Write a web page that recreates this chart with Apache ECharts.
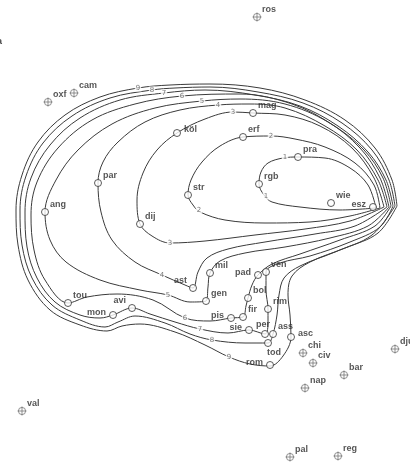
<!DOCTYPE html>
<html><head><meta charset="utf-8">
<script src="https://cdn.jsdelivr.net/npm/echarts@6/dist/echarts.min.js"></script>
<style>html,body{margin:0;padding:0;background:#fff}#c{width:410px;height:465px}</style>
</head><body><div id="c"></div>
<script>
// contour levels and their paths (map units)
const levels = [1,2,3,4,5,6,7,8,9];
const contour1 = [[376,208],[368,185],[350,168],[325,158],[298,157],[283,158],[268,163],[261,172],[259,184],[264,195],[272,202],[300,207],[340,210],[376,208]];
const contour2 = [[380,208],[374,185],[355,163],[325,147],[295,139],[271,136],[243,137],[220,146],[202,162],[191,180],[188,195],[193,205],[200,212],[225,220],[265,223],[310,222],[350,216],[380,208]];
const contour3 = [[384,207],[374,178],[352,148],[320,126],[285,115],[253,113],[233,112],[205,119],[177,133],[157,150],[143,173],[137,200],[140,224],[152,236],[170,243],[205,241],[255,235],[305,229],[350,221],[384,207]];
const contour4 = [[387,207],[378,180],[357,150],[325,126],[285,108],[250,104],[218,105],[180,110],[145,122],[118,142],[103,162],[98,183],[101,212],[112,240],[135,262],[162,275],[185,285],[193,288],[198,272],[207,258],[228,249],[265,242],[315,234],[355,226],[387,207]];
const contour5 = [[389,207],[380,178],[360,148],[328,122],[285,104],[240,99],[202,101],[155,108],[112,124],[78,150],[56,180],[45,212],[50,240],[66,262],[100,280],[140,290],[168,295],[190,302],[206,301],[208,287],[210,273],[220,261],[245,253],[285,247],[330,238],[368,226],[389,207]];
const contour6 = [[391,206],[383,178],[364,150],[333,125],[292,104],[240,94],[182,96],[135,104],[92,120],[58,148],[37,182],[31,215],[34,250],[45,280],[68,303],[87,297],[117,294],[153,300],[185,318],[210,321],[231,318],[243,317],[246,306],[248,298],[252,285],[258,275],[272,264],[300,254],[340,240],[375,226],[391,206]];
const contour7 = [[393,206],[386,180],[368,152],[338,126],[300,106],[255,95],[205,90],[164,93],[120,100],[80,118],[50,145],[31,178],[25,212],[27,247],[37,278],[55,302],[80,315],[100,318],[113,315],[132,308],[150,314],[175,322],[200,329],[228,333],[249,330],[265,334],[268,322],[268,309],[266,290],[266,272],[280,263],[310,256],[350,242],[380,227],[393,206]];
const contour8 = [[395,206],[389,180],[372,150],[342,123],[303,103],[258,92],[210,87],[175,88],[152,90],[110,98],[72,116],[43,143],[26,176],[20,210],[22,245],[32,278],[52,305],[80,320],[105,327],[118,322],[135,316],[165,323],[190,334],[212,340],[245,343],[268,343],[273,334],[277,315],[279,295],[284,278],[300,266],[335,252],[372,235],[395,206]];
const contour9 = [[397,206],[392,180],[375,148],[345,120],[305,100],[260,88],[210,84],[170,85],[138,88],[100,97],[65,115],[38,142],[22,175],[16,210],[18,245],[28,280],[50,310],[80,325],[107,331],[122,326],[140,324],[175,332],[205,345],[229,357],[250,364],[270,366],[283,356],[291,337],[290,315],[288,295],[292,276],[310,262],[345,248],[378,233],[397,206]];
const contours = [contour1,contour2,contour3,contour4,contour5,contour6,contour7,contour8,contour9];
// where each level number is written on its contour (upper and lower)
const levelLabelUpper = [[285,157],[271,136],[233,112],[218,105],[202,101],[182,96],[164,93],[152,90],[138,88]];
const levelLabelLower = [[266,196],[199,210],[170,243],[162,275],[168,295],[185,318],[200,329],[212,340],[229,357]];

// places inside the contoured area (open circles)
const innerNames = ['mag','erf','köl','pra','rgb','wie','esz','str','par','ang','dij','ast','tou','mon','avi','mil','pad','ven','gen','bol','rim','pis','fir','sie','per','ass','asc','tod','rom'];
const innerX = [253,243,177,298,259,331,373,188,98,45,140,193,68,113,132,210,258,266,206,248,268,231,243,249,265,273,291,268,270];
const innerY = [113,137,133,157,184,203,207,195,183,212,224,288,303,315,308,273,275,272,301,298,309,318,317,330,334,334,337,343,365];
// places outside (crosshair markers)
const outerNames = ['ros','oxf','cam','val','chi','civ','bar','nap','dju','pal','reg'];
const outerX = [257,48,74,22,303,313,344,305,395,290,338];
const outerY = [17,102,93,411,353,363,375,388,349,457,456];

// label placement style (not data)
const labelPlace = {esz:'l', ast:'lt', mon:'l', avi:'lt', pad:'l', pis:'l', sie:'l', per:'t', tod:'b', rom:'l', 'köl':'r', asc:'r'};
function labelFor(name){
  const p = labelPlace[name] || 'tr';
  if (p==='l') return {position:'left', distance:3, offset:[0,-2]};
  if (p==='lt') return {position:'left', distance:2, offset:[0,-7]};
  if (p==='t') return {position:'top', distance:1, offset:[-2,0]};
  if (p==='b') return {position:'bottom', distance:1, offset:[6,0]};
  if (p==='r') return {position:'right', distance:3, offset:[0,-3]};
  return {position:'right', distance:1, offset:[0,-7]};
}
const txt = {fontFamily:'Liberation Sans, Arial, sans-serif', fontWeight:'bold', fontSize:9, color:'#2a2a2a'};

const series = [];
contours.forEach((c,i)=>{
  series.push({type:'line', name:'c'+levels[i], data:c, smooth:0.35, showSymbol:false, symbol:'none',
    lineStyle:{color:'#3a3a3a', width:1}, z:1, silent:true});
});
const lvlData = [];
levels.forEach((l,i)=>{ lvlData.push({value:levelLabelUpper[i], name:String(l)}); lvlData.push({value:levelLabelLower[i], name:String(l)}); });
series.push({type:'scatter', data:lvlData, symbol:'circle', symbolSize:1, itemStyle:{color:'rgba(0,0,0,0)'}, z:3, silent:true,
  label:{show:true, position:'inside', formatter:p=>p.name, fontFamily:'DejaVu Sans, sans-serif', fontSize:7, color:'#555', backgroundColor:'#fff', padding:[0,1]}});
series.push({type:'scatter', z:4, symbol:'circle', symbolSize:7,
  itemStyle:{color:'#fff', borderColor:'#333', borderWidth:1},
  data: innerNames.map((n,i)=>({name:n, value:[innerX[i],innerY[i]], label:Object.assign({show:true, formatter:n}, txt, labelFor(n))}))});
series.push({type:'scatter', z:4, symbol:'path://M10,2 A8,8 0 1,1 10,18 A8,8 0 1,1 10,2 Z M10,0 L10,20 M0,10 L20,10', symbolSize:9,
  itemStyle:{color:'#fff', borderColor:'#777', borderWidth:1},
  data: outerNames.map((n,i)=>({name:n, value:[outerX[i],outerY[i]], label:Object.assign({show:true, formatter:n}, txt, {position:'right', distance:0, offset:[0,-7]})}))});

const chart = echarts.init(document.getElementById('c'), null, {renderer:'canvas'});
chart.setOption({
  animation:false,
  grid:{left:0,right:0,top:0,bottom:0},
  xAxis:{type:'value', min:0, max:410, show:false},
  yAxis:{type:'value', min:0, max:465, inverse:true, show:false},
  graphic:[{type:'text', left:-3, top:37, style:{text:'a', font:'bold 9px Liberation Sans', fill:'#444'}}],
  series: series
});
</script></body></html>
